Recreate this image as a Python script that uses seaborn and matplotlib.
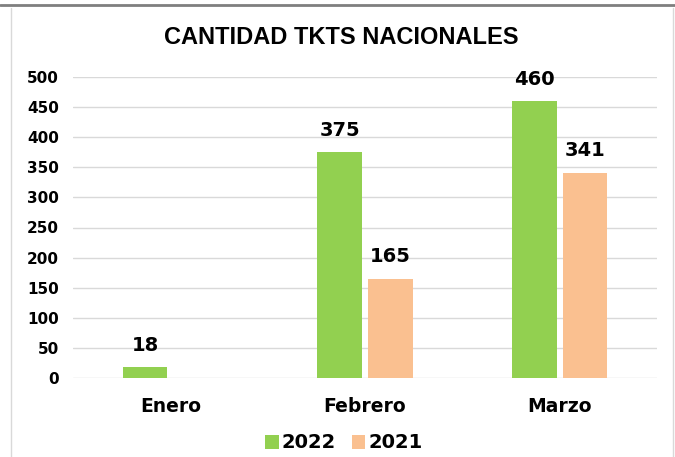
import numpy as np
import pandas as pd
import matplotlib.pyplot as plt
import seaborn as sns
from matplotlib.lines import Line2D

# datos
meses = ["Enero", "Febrero", "Marzo"]
anios = ["2022", "2021"]
tkts_2022 = [18, 375, 460]
tkts_2021 = [np.nan, 165, 341]
colores = ["#92D050", "#FAC090"]

df = pd.DataFrame({
    "Mes": meses * 2,
    "Año": [anios[0]] * 3 + [anios[1]] * 3,
    "TKTS": tkts_2022 + tkts_2021,
})

sns.set_style("white")
plt.rcParams["font.family"] = ["DejaVu Sans"]
plt.rcParams["text.color"] = "black"
plt.rcParams["xtick.color"] = "black"
plt.rcParams["ytick.color"] = "black"

fig = plt.figure(figsize=(6.75, 4.57), dpi=100)
ax = fig.add_axes([73 / 675, 1 - 378 / 457, (657 - 73) / 675, (378 - 77) / 457])

sns.barplot(data=df, x="Mes", y="TKTS", hue="Año", hue_order=anios,
            palette=colores, saturation=1, width=0.52, gap=0.12, linewidth=0,
            ax=ax, legend=True)

ax.set_ylim(0, 500)
ax.set_xlim(-0.5, 2.5)
ax.set_yticks(range(0, 501, 50))
ax.grid(axis="y", color="#D9D9D9", linewidth=1)
ax.set_axisbelow(True)
sns.despine(ax=ax, left=True, bottom=True)
ax.tick_params(axis="both", length=0)
ax.tick_params(axis="y", pad=10, labelsize=11)
ax.tick_params(axis="x", pad=14, labelsize=13.5)
for lab in ax.get_yticklabels() + ax.get_xticklabels():
    lab.set_fontweight("bold")
ax.set_xlabel("")
ax.set_ylabel("")

# etiquetas de datos
for cont in ax.containers:
    etiquetas = ["" if np.isnan(v) else f"{v:.0f}" for v in cont.datavalues]
    ax.bar_label(cont, labels=etiquetas, padding=9, fontsize=14, fontweight="bold",
                 color="black")

# leyenda abajo
handles, labels = ax.get_legend_handles_labels()
ax.legend_.remove()
fig.legend(handles, labels, loc="center", bbox_to_anchor=(344 / 675, 1 - 443 / 457),
           ncol=2, frameon=False, handlelength=0.7, handleheight=0.7,
           handletextpad=0.15, columnspacing=0.8,
           prop={"weight": "bold", "size": 14})

fig.text(341 / 675, 1 - 38 / 457, "CANTIDAD TKTS NACIONALES", ha="center", va="center",
         fontsize=17, fontweight="bold", color="black",
         family=["Liberation Sans", "DejaVu Sans"])

# bordes del recuadro
fig.add_artist(Line2D([0, 1], [1 - 5 / 457, 1 - 5 / 457], color="#7F7F7F", linewidth=2,
                      transform=fig.transFigure))
fig.add_artist(Line2D([11 / 675, 11 / 675], [0, 1 - 8 / 457], color="#D9D9D9", linewidth=1,
                      transform=fig.transFigure))
fig.add_artist(Line2D([673 / 675, 673 / 675], [0, 1 - 8 / 457], color="#D9D9D9", linewidth=1,
                      transform=fig.transFigure))

fig.savefig("out.png", dpi=100)
